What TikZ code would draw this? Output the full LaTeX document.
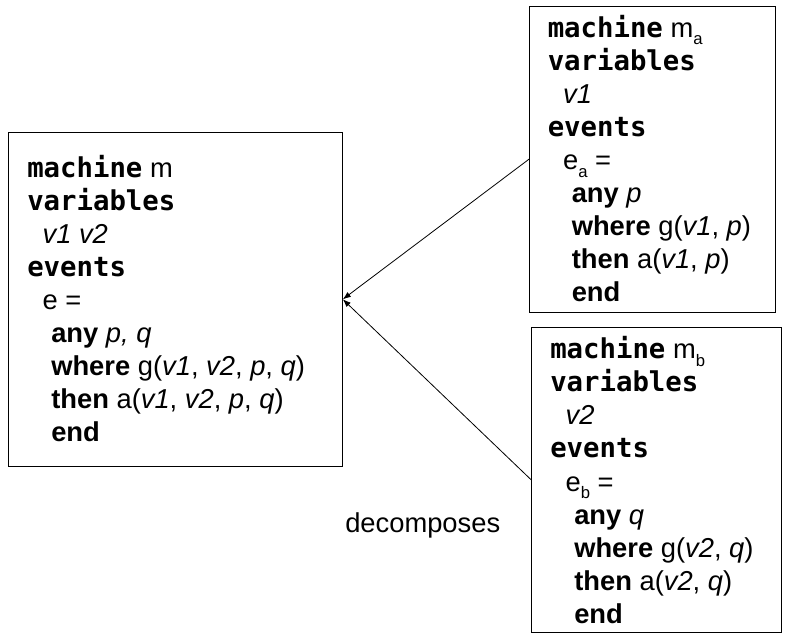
\documentclass[tikz,border=0pt]{standalone}
\usepackage{fontspec}
\setmainfont{Liberation Sans}
\newfontfamily\kwfont{DejaVu Sans Mono}
\usetikzlibrary{shapes,arrows,arrows.meta,positioning}

\newcommand{\kw}[1]{{\kwfont\bfseries #1}}
\newcommand{\op}[1]{\textbf{#1}}
\newcommand{\sub}[1]{\raisebox{-0.28em}{\fontsize{12.5pt}{12.5pt}\selectfont #1}}
\newcommand{\ind}{\hspace*{11.5pt}}
\newcommand{\indd}{\hspace*{18pt}}

\begin{document}
\begin{tikzpicture}[
    x=0.75pt,y=-0.75pt,
    machinebox/.style={rectangle,draw,line width=0.7pt,inner sep=0pt},
    code/.style={inner sep=0pt,anchor=base west,align=left,font=\fontsize{20.5pt}{24.8pt}\selectfont},
    arrow/.style={-{Latex[length=6pt,width=4.5pt]},line width=0.6pt}
]
    \useasboundingbox (0,0) rectangle (793,643);

    \node[machinebox,minimum width=250.7pt,minimum height=250pt] (m) at (175.2,299.3) {};
    \node[machinebox,minimum width=184.5pt,minimum height=229.5pt] (ma) at (652.7,159) {};
    \node[machinebox,minimum width=187pt,minimum height=228.75pt] (mb) at (656.3,479.8) {};

    % base anchor sits on the last line
    \node[code] (mtext) at (27,441.7) {\kw{machine} m\\
        \kw{variables}\\
        \ind\textit{v1 v2}\\
        \kw{events}\\
        \ind e =\\
        \indd\op{any} \textit{p, q}\\
        \indd\op{where} g(\textit{v1}, \textit{v2}, \textit{p}, \textit{q})\\
        \indd\op{then} a(\textit{v1}, \textit{v2}, \textit{p}, \textit{q})\\
        \indd\op{end}};

    \node[code] (matext) at (547.5,301.7) {\kw{machine} m\sub{a}\\
        \kw{variables}\\
        \ind\textit{v1}\\
        \kw{events}\\
        \ind e\sub{a} =\\
        \indd\op{any} \textit{p}\\
        \indd\op{where} g(\textit{v1}, \textit{p})\\
        \indd\op{then} a(\textit{v1}, \textit{p})\\
        \indd\op{end}};

    \node[code] (mbtext) at (550,623.3) {\kw{machine} m\sub{b}\\
        \kw{variables}\\
        \ind\textit{v2}\\
        \kw{events}\\
        \ind e\sub{b} =\\
        \indd\op{any} \textit{q}\\
        \indd\op{where} g(\textit{v2}, \textit{q})\\
        \indd\op{then} a(\textit{v2}, \textit{q})\\
        \indd\op{end}};

    \node[code] (decomp) at (345,532) {decomposes};

    \draw[arrow] (ma.west) -- (m.east);
    \draw[arrow] (mb.west) -- (m.east);
\end{tikzpicture}
\end{document}
